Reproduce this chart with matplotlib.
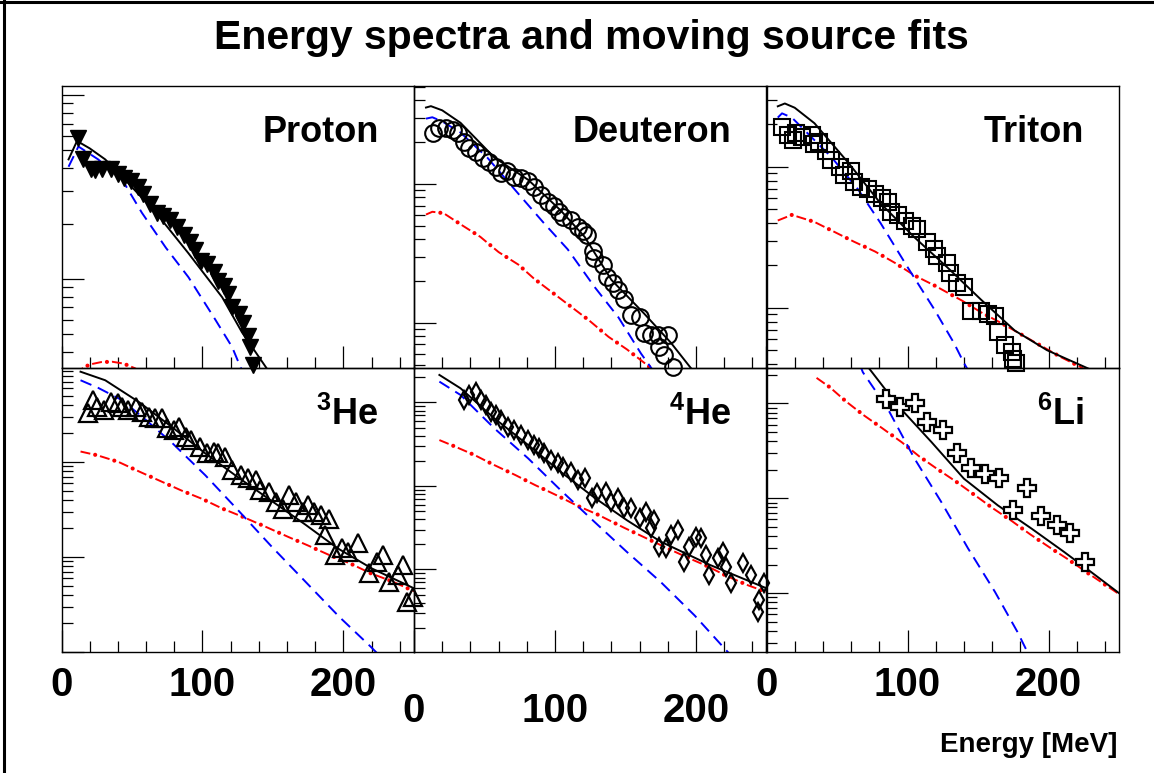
import numpy as np
import matplotlib.pyplot as plt
from matplotlib.lines import Line2D
from matplotlib.ticker import FixedLocator, MultipleLocator, LogLocator, NullFormatter

plt.rcParams['font.family'] = ['Liberation Sans', 'DejaVu Sans']
plt.rcParams['font.weight'] = 'bold'
plt.rcParams['mathtext.fontset'] = 'custom'
plt.rcParams['mathtext.rm'] = 'Liberation Sans:bold'
plt.rcParams['mathtext.bf'] = 'Liberation Sans:bold'
plt.rcParams['lines.scale_dashes'] = False

# values are log10 of the yield (arbitrary units), energies in MeV

# --- proton ---
p_E = [12, 15.6, 20.6, 24, 29, 35, 40, 44, 49, 54, 58, 63, 68, 72, 77, 82, 87, 91, 95, 99,
       103, 108, 111, 115, 118, 121, 126, 129, 132, 134, 136]
p_lg = [-0.234, -0.35, -0.40, -0.41, -0.40, -0.40, -0.43, -0.45, -0.47, -0.50, -0.54, -0.59,
        -0.64, -0.66, -0.68, -0.72, -0.76, -0.80, -0.84, -0.90, -0.92, -0.96, -1.01, -1.04,
        -1.08, -1.15, -1.19, -1.24, -1.31, -1.37, -1.47]
p_tot_E = [5, 11, 20, 31, 45, 67, 90, 114, 128, 145, 152]
p_tot = [-0.35, -0.25, -0.29, -0.35, -0.46, -0.64, -0.86, -1.10, -1.29, -1.48, -1.56]
p_s1_E = [5, 12, 26, 43, 57, 74, 90, 109, 121, 127, 132]
p_s1 = [-0.39, -0.28, -0.35, -0.46, -0.64, -0.83, -0.99, -1.22, -1.37, -1.48, -1.56]
p_s2_E = [10, 15, 20, 28, 36, 44, 52, 60]
p_s2 = [-1.52, -1.485, -1.465, -1.452, -1.45, -1.46, -1.485, -1.52]

# --- deuteron ---
d_E = [13.5, 18, 23, 27.5, 31, 35.5, 39, 44, 49, 53, 58, 62, 66, 71, 76, 81, 85, 90, 95, 99,
       103, 106, 111, 116, 120, 123, 127, 128, 134, 137, 141, 145, 149, 154, 160, 163, 168,
       173, 174, 177, 180, 184]
d_lg = [0.37, 0.40, 0.40, 0.39, 0.37, 0.30, 0.26, 0.23, 0.19, 0.16, 0.12, 0.08, 0.09, 0.05,
        0.04, 0.02, -0.02, -0.08, -0.13, -0.16, -0.20, -0.24, -0.26, -0.31, -0.34, -0.37,
        -0.48, -0.53, -0.58, -0.67, -0.71, -0.76, -0.83, -0.94, -0.96, -1.07, -1.09, -1.09,
        -1.17, -1.23, -1.09, -1.32]
d_tot_E = [8.5, 12, 20, 33, 57, 81, 104, 121, 140, 163, 182, 196, 202]
d_tot = [0.55, 0.56, 0.53, 0.44, 0.19, 0.03, -0.19, -0.38, -0.69, -0.93, -1.14, -1.32, -1.39]
d_s1_E = [8.5, 13, 20, 33, 52, 74, 92, 109, 128, 145, 161, 168, 172]
d_s1 = [0.47, 0.48, 0.45, 0.37, 0.19, -0.07, -0.28, -0.47, -0.74, -0.96, -1.22, -1.32, -1.38]
d_s2_E = [8.5, 13, 21, 33, 47, 60, 74, 85, 98, 111, 124, 138, 151, 165, 172]
d_s2 = [-0.22, -0.20, -0.21, -0.29, -0.38, -0.49, -0.58, -0.68, -0.78, -0.88, -0.98, -1.10,
        -1.19, -1.30, -1.36]

# --- triton ---
t_E = [11, 15, 18.5, 21, 25.5, 32, 34, 37.5, 42.5, 46, 52, 55, 60, 62, 67, 72, 77, 82, 86,
       88.5, 93, 98, 103, 107, 114, 119, 121, 128, 130, 135, 140, 145, 152, 157, 162, 164,
       169, 174, 174.5, 177]
t_lg = [0.28, 0.23, 0.19, 0.24, 0.21, 0.23, 0.16, 0.18, 0.11, 0.05, 0.00, -0.06, -0.03, -0.11,
        -0.14, -0.16, -0.19, -0.22, -0.25, -0.32, -0.34, -0.38, -0.42, -0.44, -0.53, -0.58,
        -0.63, -0.68, -0.75, -0.82, -0.85, -1.02, -1.02, -1.04, -1.06, -1.17, -1.26, -1.31,
        -1.36, -1.39]
t_tot_E = [8, 13, 20, 34, 58, 81, 105, 128, 152, 176, 199, 226, 235]
t_tot = [0.43, 0.45, 0.42, 0.31, 0.03, -0.26, -0.50, -0.71, -0.94, -1.16, -1.30, -1.42, -1.46]
t_s1_E = [8, 11, 18, 27, 46, 65, 81, 100, 119, 133, 140, 144]
t_s1 = [0.35, 0.38, 0.35, 0.26, 0.07, -0.16, -0.40, -0.71, -1.01, -1.25, -1.39, -1.46]
t_s2_E = [8, 18, 34, 48, 62, 77, 91, 105, 119, 139, 152, 167, 181, 195, 209, 223, 230]
t_s2 = [-0.38, -0.34, -0.39, -0.46, -0.53, -0.60, -0.68, -0.77, -0.84, -0.95, -1.03, -1.11,
        -1.19, -1.27, -1.35, -1.42, -1.46]

# --- 3He ---
h3_E = [19, 22, 25.5, 30, 35, 40, 43, 47.5, 52.5, 57, 62, 66.5, 71.5, 75, 79.5, 83, 88, 91.5,
        98.5, 103, 108, 111, 116, 121, 127, 132, 138, 141, 147, 152, 157, 161, 166, 171,
        174.5, 179, 184, 189.5, 187, 194, 199, 203.5, 210.5, 218, 224, 228, 232, 239, 242,
        245, 249]
h3_lg = [0.52, 0.65, 0.58, 0.55, 0.63, 0.62, 0.58, 0.55, 0.58, 0.53, 0.47, 0.46, 0.46, 0.36,
         0.34, 0.37, 0.26, 0.23, 0.16, 0.09, 0.11, 0.09, 0.05, -0.08, -0.14, -0.17, -0.19,
         -0.30, -0.32, -0.42, -0.49, -0.35, -0.42, -0.53, -0.45, -0.53, -0.56, -0.60, -0.77,
         -0.98, -0.91, -0.95, -0.85, -1.17, -1.05, -0.98, -1.26, -1.19, -1.08, -1.47, -1.42]
h3_tot_E = [13.5, 31, 55, 79, 102, 126, 150, 173, 196, 220, 250]
h3_tot = [0.95, 0.86, 0.63, 0.36, 0.09, -0.17, -0.42, -0.66, -0.91, -1.12, -1.33]
h3_s1_E = [13.5, 26, 43, 60, 78.5, 102, 126, 149, 173, 197, 219, 225]
h3_s1 = [0.86, 0.78, 0.65, 0.44, 0.20, -0.14, -0.52, -0.89, -1.26, -1.63, -1.94, -2.03]
h3_s2_E = [13.5, 25.5, 40.5, 55, 70, 85, 100, 114, 129, 146, 161, 175, 190, 205, 219, 235, 250]
h3_s2 = [0.11, 0.07, 0.0, -0.10, -0.20, -0.30, -0.39, -0.49, -0.58, -0.69, -0.79, -0.88,
         -0.98, -1.07, -1.17, -1.26, -1.36]

# --- 4He ---
h4_E = [35.5, 39, 44, 47.5, 51, 54.5, 58, 62, 66.5, 71, 76, 81, 85, 89, 92, 97, 102, 106, 111,
        116, 121, 126, 130, 136, 140, 145, 149, 154, 160, 164.5, 168, 170, 174, 179, 182,
        187, 191.5, 195, 200, 203.5, 207, 209, 215.5, 219, 221, 225, 233, 239, 244, 245, 248]
h4_lg = [1.03, 1.09, 1.13, 1.03, 0.97, 0.89, 0.85, 0.79, 0.71, 0.67, 0.61, 0.55, 0.49, 0.46,
         0.40, 0.31, 0.28, 0.23, 0.17, 0.07, 0.10, -0.14, -0.08, -0.07, -0.19, -0.14, -0.26,
         -0.26, -0.38, -0.31, -0.50, -0.41, -0.73, -0.74, -0.59, -0.53, -0.91, -0.73, -0.61,
         -0.62, -0.83, -1.07, -0.86, -0.79, -0.97, -1.16, -0.92, -1.07, -1.51, -1.37, -1.16]
h4_tot_E = [18, 33, 57, 81, 104, 128, 151, 175, 210, 250]
h4_tot = [1.33, 1.17, 0.81, 0.49, 0.17, -0.14, -0.41, -0.667, -0.946, -1.225]
h4_s1_E = [18, 33, 57, 81, 104, 128, 151, 175, 199, 221, 226]
h4_s1 = [1.25, 1.09, 0.69, 0.33, -0.05, -0.43, -0.79, -1.15, -1.55, -1.96, -2.05]
h4_s2_E = [18, 28, 43, 57, 72, 86, 101, 115, 130, 149, 164, 179, 193, 208, 222, 237, 250]
h4_s2 = [0.55, 0.48, 0.37, 0.25, 0.13, 0.01, -0.11, -0.23, -0.34, -0.50, -0.62, -0.74,
         -0.85, -0.96, -1.08, -1.19, -1.27]

# --- 6Li ---
li_E = [85, 94.5, 105, 114, 125, 135, 145, 155, 165, 175, 185, 195, 206, 215, 226]
li_lg = [1.05, 0.96, 1.01, 0.80, 0.72, 0.48, 0.32, 0.26, 0.21, -0.12, 0.11, -0.19, -0.28,
         -0.37, -0.67]
li_tot_E = [70, 73, 93, 117, 140, 164, 188, 211, 230, 250]
li_tot = [1.42, 1.365, 0.98, 0.593, 0.207, -0.074, -0.32, -0.565, -0.775, -1.0]
li_s1_E = [66, 68.3, 86, 105, 124, 143, 162, 178, 185, 188]
li_s1 = [1.42, 1.33, 0.944, 0.418, -0.04, -0.53, -0.986, -1.41, -1.62, -1.70]
li_s2_E = [35.5, 45, 56.5, 69.5, 82, 96, 108.5, 121, 135, 148, 161, 174, 187, 201, 214, 227, 249]
li_s2 = [1.27, 1.17, 1.02, 0.87, 0.74, 0.59, 0.44, 0.31, 0.17, 0.03, -0.11, -0.24, -0.38,
         -0.52, -0.645, -0.78, -1.0]

names = ['Proton', 'Deuteron', 'Triton', r'$^{3}$He', r'$^{4}$He', r'$^{6}$Li']
ylims = [(-1.484, 0.049), (-1.324, 0.705), (-1.426, 0.574),
         (-2.0, 0.989), (-1.988, 1.413), (-1.621, 1.374)]
x_ticks = [0, 100, 200]

panels = [
    (p_E, p_lg, p_tot_E, p_tot, p_s1_E, p_s1, p_s2_E, p_s2),
    (d_E, d_lg, d_tot_E, d_tot, d_s1_E, d_s1, d_s2_E, d_s2),
    (t_E, t_lg, t_tot_E, t_tot, t_s1_E, t_s1, t_s2_E, t_s2),
    (h3_E, h3_lg, h3_tot_E, h3_tot, h3_s1_E, h3_s1, h3_s2_E, h3_s2),
    (h4_E, h4_lg, h4_tot_E, h4_tot, h4_s1_E, h4_s1, h4_s2_E, h4_s2),
    (li_E, li_lg, li_tot_E, li_tot, li_s1_E, li_s1, li_s2_E, li_s2),
]
markers = [
    dict(marker='v', ms=12, mfc='black', mec='black', mew=1.0),
    dict(marker='o', ms=12, mfc='none', mec='black', mew=1.5),
    dict(marker='s', ms=11, mfc='none', mec='black', mew=1.5),
    dict(marker='^', ms=13, mfc='none', mec='black', mew=1.6),
    dict(marker='d', ms=9, mfc='none', mec='black', mew=1.6),
    dict(marker='P', ms=12.5, mfc='white', mec='black', mew=1.6),
]

W, H = 1154, 773
fig = plt.figure(figsize=(W / 100, H / 100), dpi=100)
cols = [61.5, 414, 766.5]
pw = 352.5
rows = [(86, 368), (368, 652)]
label_pad = [10, 28.5, 10]


def lin(v):
    return np.power(10.0, np.array(v, dtype=float))


for i, (mE, mlg, aE, a, bE, b, cE, c) in enumerate(panels):
    r, col = divmod(i, 3)
    top, bot = rows[r]
    ax = fig.add_axes([cols[col] / W, 1 - bot / H, pw / W, (bot - top) / H])
    ax.set_facecolor('none')
    ax.set_yscale('log')
    ax.set_xlim(0, 250)
    ax.set_ylim(10 ** ylims[i][0], 10 ** ylims[i][1])

    # red source: dashes plus round dots in the gaps
    ax.plot(cE, lin(c), color='red', lw=1.4, linestyle=(0, (7.2, 7.2)))
    ax.plot(cE, lin(c), color='red', lw=3.0, linestyle=(3.6, (0.01, 14.39)),
            dash_capstyle='round')
    ax.plot(bE, lin(b), color='blue', lw=1.4, linestyle=(0, (8.5, 5)))
    ax.plot(aE, lin(a), color='black', lw=1.4)
    ax.plot(mE, lin(mlg), linestyle='none', clip_on=False, zorder=3, **markers[i])

    ax.xaxis.set_major_locator(FixedLocator(x_ticks))
    ax.xaxis.set_minor_locator(MultipleLocator(20))
    ax.yaxis.set_major_locator(LogLocator(base=10))
    ax.yaxis.set_minor_locator(LogLocator(base=10, subs=np.arange(2, 10), numticks=20))
    ax.yaxis.set_major_formatter(NullFormatter())
    ax.yaxis.set_minor_formatter(NullFormatter())
    ax.tick_params(which='both', direction='in', top=False, right=False, width=0.9,
                   colors='black')
    ax.tick_params(which='major', length=16)
    ax.tick_params(which='minor', length=8)
    if r == 0:
        ax.tick_params(axis='x', labelbottom=False)
    else:
        ax.set_xticklabels([str(v) for v in x_ticks], fontsize=29, fontweight='bold')
        ax.tick_params(axis='x', which='major', pad=label_pad[col])
    for s in ax.spines.values():
        s.set_linewidth(1.0)

    ax.text(0.90, 0.80, names[i], transform=ax.transAxes, ha='right', va='baseline',
            fontsize=26, fontweight='bold')

fig.text(591 / W, 1 - 38 / H, 'Energy spectra and moving source fits', ha='center',
         va='center', fontsize=29.5, fontweight='bold')
fig.text(1117 / W, 1 - 745 / H, 'Energy [MeV]', ha='right', va='center', fontsize=20,
         fontweight='bold')

# canvas border (left and top edges visible)
fig.add_artist(Line2D([4 / W, 4 / W], [0, 1], color='black', lw=2.2))
fig.add_artist(Line2D([0, 1], [1 - 1.5 / H, 1 - 1.5 / H], color='black', lw=2.2))

fig.savefig('out.png', dpi=100)
